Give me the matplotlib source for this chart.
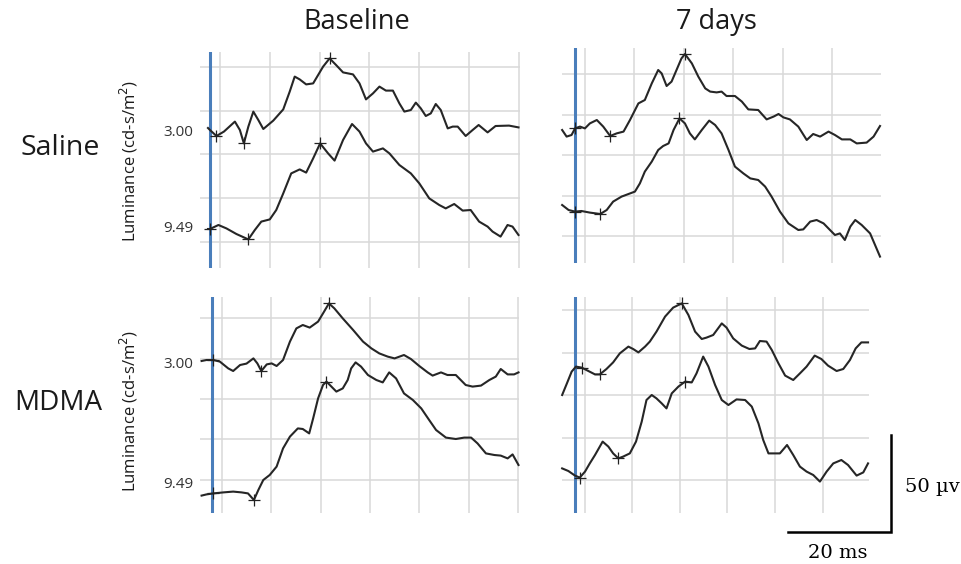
import matplotlib
matplotlib.use('Agg')
import matplotlib.pyplot as plt
import numpy as np

# time in ms (flash at 0), amplitude in uV (traces drawn with offsets)
sal_base_300_t = [-0.4, 0, 1.3, 2.8, 5, 6, 6.8, 7.7, 8.7, 9.7, 10.7, 12.7, 14.7, 16, 17, 18, 19.3, 20.7, 21.7, 22.7,
                  24, 25.3, 26.7, 28.7, 30, 31.3, 32.7, 34, 35.3, 36.7, 38, 39, 40.3, 41.3, 42.3, 43.3, 44.3, 45.3, 46.3,
                  47.7, 48.7, 49.7, 51.3, 52.7, 53.9, 55.7, 57.3, 60, 61.9]
sal_base_300_uv = [70, 69, 66, 68.2, 73.2, 69, 62.3, 70.7, 78.2, 74, 69.5, 73.7, 79.3, 88.2, 95.7, 94.3, 91.8, 92.3, 96.5,
                   100.7, 104.8, 101.5, 97.8, 96.8, 92.3, 84.3, 87.3, 90.7, 88.7, 88.7, 82.3, 78.2, 79, 82.7, 79.8, 76,
                   77.3, 82, 79, 69.8, 70.7, 70.7, 66, 69, 71.5, 67.8, 71, 71.2, 70.3]
sal_base_949_t = [-0.4, 0, 1.7, 3.3, 5.3, 7.7, 9, 10.3, 12, 13.3, 14.7, 16.3, 18, 19.3, 20.7, 22.1, 23.7, 25, 26.7, 28.5,
                  30, 31.3, 32.7, 34.7, 36, 38, 40.3, 42, 44, 46, 47.3, 49, 50.7, 52.3, 54, 55.7, 56.7, 58.3, 59.7, 60.7,
                  61.9]
sal_base_949_uv = [19.5, 19.5, 21.5, 19.8, 17, 14.3, 19, 23.2, 24.3, 29, 37.3, 47.3, 49.3, 47.7, 54.8, 62.3, 57.3, 53.7,
                   64, 72, 68.2, 62.3, 58.2, 59.8, 57.3, 51.5, 47.3, 42.3, 34.8, 31.5, 29.8, 32, 28.7, 29, 23.2, 20.7,
                   18.2, 15.7, 21.5, 20.7, 16.5]

sal_7d_300_t = [-2.6, -1.7, -0.7, 0, 1, 2, 3, 4.4, 5.7, 7.1, 8.4, 9.8, 11.1, 12.8, 14.1, 15.5, 16.8, 17.5, 18.5, 19.5,
                20.5, 21.5, 22.2, 23.6, 24.9, 26.3, 27.3, 28.6, 29.6, 30.6, 32.3, 33.7, 35, 37, 38.7, 40.1, 41.1, 42.1,
                43.4, 45.1, 46.8, 48.1, 49.5, 51.2, 52.5, 53.9, 55.6, 56.9, 58.9, 60.3, 61.6]
sal_7d_300_uv = [66.5, 63.2, 64, 67.3, 68.2, 67.3, 69.8, 71.5, 68.2, 63.5, 64.8, 65.7, 71.5, 79.8, 81.5, 89.8, 96.5,
                 94.8, 88.5, 90.7, 96.5, 102.3, 104.5, 99.8, 93.2, 87.3, 85.7, 85.3, 85.7, 83.5, 83.5, 80.7, 76.8, 76.5,
                 71.8, 73.2, 74.5, 72.8, 71.8, 68.2, 61.5, 64.5, 63.2, 65.7, 64, 61.8, 61.8, 59.8, 60.2, 63.2, 68.5]
sal_7d_949_t = [-2.6, -1.3, 0, 1.3, 3, 5.1, 6.4, 7.7, 9.4, 10.8, 12.1, 13.1, 14.1, 15.5, 16.8, 17.8, 18.9, 19.9, 21.1,
                22.2, 23.2, 24.2, 25.6, 27.1, 28.3, 29.6, 31, 32.3, 34, 35.4, 37, 38.4, 39.7, 41.4, 43.1, 45.1, 46.1,
                47.5, 48.8, 50.2, 51.5, 52.5, 53.5, 54.5, 55.6, 56.6, 57.9, 59.6, 60.6, 61.6]
sal_7d_949_uv = [29, 26.5, 25.7, 26, 25.2, 24.5, 26.5, 30.7, 33.2, 34.5, 35.7, 39.8, 45.7, 50.7, 56.5, 58.5, 59.8,
                 66.5, 72.3, 69.8, 64.8, 61.8, 66.5, 71.2, 69, 64.8, 56.5, 48.2, 44.8, 42.3, 41.5, 38.2, 33.2, 25.7,
                 19.8, 16.5, 16.8, 20.7, 21.5, 19.8, 16.5, 14, 14.8, 11.5, 18.2, 21.5, 19, 14.8, 9, 3.2]

mdma_base_300_t = [-2.1, -1.1, 0.3, 1.6, 3.3, 4.3, 5.7, 7, 8.4, 9.2, 10, 11.1, 12.1, 13.1, 14.4, 15.8, 17.1, 18.4,
                   19.8, 21.5, 22.5, 23.7, 24.8, 26.5, 28.6, 30.6, 32.3, 33.9, 35.6, 37, 38.9, 40.3, 42, 43.7, 44.7,
                   46.4, 47.7, 49.4, 50.4, 51.4, 52.8, 54.5, 56.2, 57.5, 58.5, 59.9, 61.2, 62.1]
mdma_base_300_uv = [76, 76.5, 76.5, 75.7, 72.3, 71, 74, 74.7, 77.3, 74.8, 71, 74.3, 74.8, 73.5, 76.5, 85.7, 92.3, 94,
                    92.7, 95.7, 99.8, 104.8, 102.3, 97.3, 91.5, 85.7, 82.3, 79.8, 78.2, 77.3, 79, 77, 73.5, 70.3, 68.7,
                    70.3, 69, 69, 66.5, 64, 63.2, 63.7, 66.5, 68.2, 72, 69.3, 69.3, 70.3]
mdma_base_949_t = [-2.1, -1.1, 0.3, 2.3, 4.3, 6, 7.3, 8.5, 9.4, 10.4, 11.7, 13.1, 14.4, 15.8, 17.4, 18.4, 19.7, 20.5,
                   21.5, 22.5, 23.2, 24.2, 25.2, 26.5, 27.5, 28.2, 29.1, 30.2, 31.6, 33.3, 34.6, 35.9, 37.3, 38.9,
                   40.7, 42.4, 44, 45.4, 47.4, 49.4, 51.1, 52.5, 53.8, 55.5, 57.2, 58.5, 59.9, 60.9, 62.1]
mdma_base_949_uv = [8.7, 9.3, 9.8, 10.3, 10.7, 10.3, 9.8, 6.5, 11.5, 16.5, 19, 23.2, 32.3, 38.2, 42.3, 42, 39.8, 47.3,
                    57.3, 64, 65.7, 63.2, 60.7, 62.3, 66.5, 72.3, 75.3, 73.2, 69, 66.5, 65.3, 70.3, 67.3, 59.8, 56.5,
                    52.3, 46.5, 41.5, 37.7, 37, 37.7, 37.7, 34.8, 29.8, 29, 28.7, 27.3, 29.3, 24]

mdma_7d_300_t = [-2.7, -1.7, -0.7, 0.2, 1.4, 2.8, 4.2, 5.2, 6.6, 8, 9.4, 11.2, 12.2, 13.3, 14.7, 15.7, 17.1, 18.9, 20.6,
                 22.4, 23.8, 25.2, 26.6, 27.6, 29, 30.8, 31.8, 33.2, 35, 36.6, 37.8, 38.8, 40.2, 41.3, 42.7, 44.1, 45.8,
                 47.2, 48.6, 50.3, 51.7, 53.1, 54.9, 56.3, 57.7, 58.9, 60.1, 61.5]
mdma_7d_300_uv = [59, 64.8, 70.7, 73.2, 72.7, 71, 69.3, 69.3, 72, 75.3, 79.8, 83.2, 82, 80.3, 83.2, 85.7, 90.7, 98.2,
                  102.7, 104.8, 99, 90.7, 87, 87.7, 89, 94.8, 92.7, 87.3, 83.7, 82, 82.3, 86, 85.7, 81.5, 74.8, 68.7,
                  66.5, 69.8, 73.2, 78.7, 77, 73.7, 71, 72, 76.5, 82.3, 85.3, 85.3]
mdma_7d_949_t = [-2.7, -1.4, 0, 1, 2.1, 3.1, 4.2, 5.8, 7, 8, 9.1, 10.1, 11.5, 12.8, 14, 15, 16.1, 17.1, 18.2, 19.2,
                 20.3, 21.7, 23.1, 24.5, 25.5, 26.9, 28, 29.4, 30.8, 32.2, 33.9, 35.7, 37.1, 38.5, 39.5, 40.6, 41.6, 43,
                 44.5, 45.8, 47.2, 48.6, 50, 51.4, 52.8, 54.2, 55.9, 57.3, 59.1, 60.5, 61.5]
mdma_7d_949_uv = [22.3, 21, 18.7, 17.7, 20.7, 24.8, 29, 35.7, 33.2, 29.8, 27.3, 28.2, 29.8, 35.7, 45.7, 56.5, 59, 57.3,
                  54.8, 52.3, 59.8, 63.2, 65.7, 65.3, 69.8, 78.2, 73.2, 64, 56.5, 54, 56.8, 56.5, 53.2, 44.8, 36.5,
                  29.8, 29.8, 29.8, 34, 29, 23.2, 20.7, 19, 15.7, 20.7, 24.8, 26.5, 24, 18.7, 20.3, 24.8]

# picked a- / b-wave markers (ms)
sal_base_marks = [[1.3, 6.8, 24], [0, 7.7, 22.1]]
sal_7d_marks = [[0, 7.1, 22.2], [0, 5.1, 21.1]]
mdma_base_marks = [[0.3, 10, 23.7], [0.3, 8.5, 23.2]]
mdma_7d_marks = [[1.4, 5.2, 22.4], [1, 9.1, 23.1]]

col_titles = ['Baseline', '7 days']
row_titles = ['Saline', 'MDMA']
lum_labels = ['3.00', '9.49']

W, H = 961, 564
fig = plt.figure(figsize=(W / 100, H / 100), dpi=100)
plt.rcParams['font.family'] = 'Open Sans'

GRID = '#d9d9d9'
TRACE = '#262626'
BLUE = '#4a7ebb'


def add_panel(box, xlim, ylim, xgrid, ygrid, traces, marks):
    L, T, R, B = box
    ax = fig.add_axes([L / W, 1 - B / H, (R - L) / W, (B - T) / H])
    ax.set_xlim(*xlim)
    ax.set_ylim(*ylim)
    for x in xgrid:
        ax.axvline(x, color=GRID, lw=1.1, zorder=0)
    for y in ygrid:
        ax.axhline(y, color=GRID, lw=1.1, zorder=0)
    ax.axvline(0, color=BLUE, lw=2.2, zorder=1)
    for (t, uv), mk in zip(traces, marks):
        t = np.array(t)
        uv = np.array(uv)
        ax.plot(t, uv, color=TRACE, lw=1.5, solid_joinstyle='round', zorder=2, clip_on=False)
        idx = [int(np.argmin(np.abs(t - m))) for m in mk]
        ax.plot(t[idx], uv[idx], ls='none', marker='+', ms=8, mew=0.9, color='#222222', zorder=3, clip_on=False)
    ax.axis('off')
    return ax


xg_left = [2, 12, 22, 32, 42, 52, 62]
xg_right = [2, 12, 22, 32, 42, 52]

add_panel((200, 52, 520, 268), (-2, 62.2), (0, 108), xg_left, [100.7, 78.7, 57, 34.8, 13.2],
          [(sal_base_300_t, sal_base_300_uv), (sal_base_949_t, sal_base_949_uv)], sal_base_marks)
add_panel((562, 48, 881, 263), (-2.63, 61.8), (0, 107.5), xg_right, [94.3, 74, 54, 33.7, 13.5],
          [(sal_7d_300_t, sal_7d_300_uv), (sal_7d_949_t, sal_7d_949_uv)], sal_7d_marks)
add_panel((200, 297, 519, 513), (-2.42, 62.2), (0, 108), xg_left, [97.3, 77, 57, 36.8, 16.5],
          [(mdma_base_300_t, mdma_base_300_uv), (mdma_base_949_t, mdma_base_949_uv)], mdma_base_marks)
add_panel((562, 297, 869, 513), (-2.73, 61.7), (0, 108), xg_right, [101.5, 80.2, 59, 37.3, 16.5],
          [(mdma_7d_300_t, mdma_7d_300_uv), (mdma_7d_949_t, mdma_7d_949_uv)], mdma_7d_marks)


def ftext(x, y, s, **kw):
    fig.text(x / W, 1 - y / H, s, **kw)


ftext(357, 22, col_titles[0], ha='center', va='center', fontsize=19.5, color='#1a1a1a')
ftext(716, 22, col_titles[1], ha='center', va='center', fontsize=19.5, color='#1a1a1a')
ftext(60, 148, row_titles[0], ha='center', va='center', fontsize=20.5, color='#1a1a1a')
ftext(58, 403, row_titles[1], ha='center', va='center', fontsize=20, color='#1a1a1a')
for yc in (161, 411):
    ftext(129, yc, 'Luminance (cd-s/m$^2$)', ha='center', va='center', rotation=90, fontsize=12,
          color='#1a1a1a')
for y, s in zip((132, 229, 364, 485), lum_labels * 2):
    ftext(193, y, s, ha='right', va='center', fontsize=11, color='#333333')

# scale bar: 20 ms x 50 uV
sb = fig.add_axes([788 / W, 1 - 532 / H, 103 / W, 97 / H])
sb.set_xlim(0, 20)
sb.set_ylim(0, 50)
sb.plot([0, 20, 20], [0, 0, 50], color='black', lw=1.8, clip_on=False, solid_joinstyle='miter')
sb.axis('off')
ftext(905, 487, '50 µv', ha='left', va='center', fontsize=14, family='DejaVu Serif')
ftext(838, 553, '20 ms', ha='center', va='center', fontsize=14, family='DejaVu Serif')

plt.savefig('out.png', dpi=100)
